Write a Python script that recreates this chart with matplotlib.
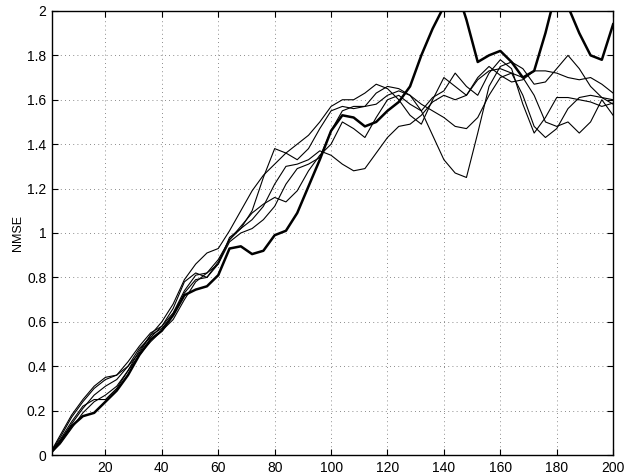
import numpy as np
import matplotlib.pyplot as plt

plt.rcParams['font.family'] = ['Liberation Sans', 'DejaVu Sans']

# sample positions (iterations)
x = np.arange(0, 201, 4)

# thin runs
run1 = [0, 0.09, 0.18, 0.25, 0.31, 0.35, 0.36, 0.42, 0.49, 0.55, 0.58, 0.66, 0.78, 0.82, 0.80, 0.86,
        0.98, 1.02, 1.10, 1.25, 1.38, 1.36, 1.33, 1.38, 1.47, 1.55, 1.57, 1.56, 1.57, 1.63, 1.66, 1.65,
        1.62, 1.55, 1.44, 1.33, 1.27, 1.25, 1.45, 1.66, 1.75, 1.77, 1.74, 1.67, 1.68, 1.74, 1.80, 1.74,
        1.66, 1.61, 1.58]
run2 = [0, 0.05, 0.12, 0.19, 0.24, 0.27, 0.31, 0.38, 0.47, 0.54, 0.57, 0.63, 0.73, 0.79, 0.80, 0.87,
        0.97, 1.02, 1.06, 1.12, 1.22, 1.30, 1.31, 1.33, 1.37, 1.35, 1.31, 1.28, 1.29, 1.36, 1.43, 1.48,
        1.49, 1.53, 1.59, 1.62, 1.60, 1.62, 1.69, 1.73, 1.74, 1.72, 1.62, 1.48, 1.43, 1.47, 1.56, 1.61,
        1.62, 1.61, 1.60]
run3 = [0, 0.08, 0.17, 0.24, 0.30, 0.34, 0.36, 0.40, 0.46, 0.54, 0.60, 0.68, 0.79, 0.86, 0.91, 0.93,
        1.01, 1.10, 1.19, 1.26, 1.31, 1.36, 1.40, 1.44, 1.50, 1.57, 1.60, 1.60, 1.63, 1.67, 1.65, 1.60,
        1.53, 1.49, 1.60, 1.70, 1.66, 1.62, 1.70, 1.75, 1.71, 1.68, 1.69, 1.73, 1.73, 1.72, 1.70, 1.69,
        1.70, 1.67, 1.63]
run4 = [0, 0.06, 0.14, 0.21, 0.27, 0.31, 0.34, 0.40, 0.48, 0.53, 0.58, 0.64, 0.74, 0.81, 0.82, 0.88,
        0.97, 1.03, 1.09, 1.13, 1.16, 1.14, 1.19, 1.28, 1.35, 1.40, 1.50, 1.47, 1.43, 1.52, 1.60, 1.62,
        1.58, 1.55, 1.61, 1.64, 1.72, 1.66, 1.62, 1.72, 1.78, 1.74, 1.58, 1.45, 1.52, 1.61, 1.61, 1.60,
        1.59, 1.57, 1.585]
run5 = [0, 0.07, 0.15, 0.22, 0.25, 0.25, 0.30, 0.38, 0.45, 0.51, 0.56, 0.61, 0.70, 0.78, 0.82, 0.86,
        0.96, 1.00, 1.02, 1.06, 1.12, 1.22, 1.29, 1.31, 1.34, 1.46, 1.55, 1.57, 1.57, 1.58, 1.62, 1.64,
        1.62, 1.58, 1.55, 1.52, 1.48, 1.47, 1.52, 1.62, 1.70, 1.72, 1.70, 1.62, 1.50, 1.48, 1.50, 1.45,
        1.50, 1.60, 1.53]
# thick run
run_bold = [0, 0.06, 0.13, 0.175, 0.19, 0.24, 0.29, 0.36, 0.45, 0.52, 0.56, 0.63, 0.72, 0.745, 0.76, 0.81,
            0.93, 0.94, 0.905, 0.92, 0.99, 1.01, 1.09, 1.21, 1.33, 1.46, 1.53, 1.52, 1.48, 1.50, 1.55, 1.59,
            1.66, 1.80, 1.92, 2.02, 2.12, 1.96, 1.77, 1.80, 1.82, 1.77, 1.70, 1.73, 1.90, 2.10, 2.02, 1.90,
            1.80, 1.78, 1.94]

fig = plt.figure(figsize=(6.4, 4.75), dpi=100)
ax = fig.add_axes([0.081, 0.042, 0.877, 0.935])

for r in [run1, run2, run3, run4, run5]:
    ax.plot(x, r, color='black', linewidth=0.8, solid_joinstyle='round')
ax.plot(x, run_bold, color='black', linewidth=1.8, solid_joinstyle='round')

ax.set_xlim(1, 200)
ax.set_ylim(0, 2)
ax.set_xticks(range(20, 201, 20))
ax.set_yticks(np.arange(0, 2.01, 0.2))
ax.set_yticklabels(['0', '0.2', '0.4', '0.6', '0.8', '1', '1.2', '1.4', '1.6', '1.8', '2'])
ax.grid(True, linestyle=(0, (1, 4)), color='#666666', linewidth=0.6)
ax.tick_params(direction='in', top=True, right=True, labelsize=10, length=4, width=0.8, pad=4)
for s in ax.spines.values():
    s.set_linewidth(1.0)
ax.set_ylabel('NMSE', fontsize=9, labelpad=2)

fig.savefig('out.png')
